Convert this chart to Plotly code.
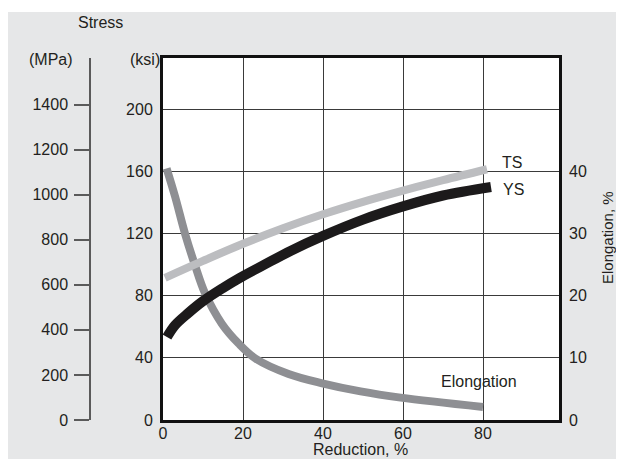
import plotly.graph_objects as go

# ---- data ----
ts_x = [0.5, 10, 20, 30, 40, 50, 60, 70, 81]
ts_ksi = [91.5, 102.4, 113.4, 123.4, 132.4, 140.4, 147.6, 154.4, 161.4]

ys_x = [1, 3, 6.3, 10, 15, 19, 25, 32, 40, 50, 60, 70, 82]
ys_ksi = [53.4, 61, 68.8, 76.5, 85, 91.2, 99.5, 109, 118.5, 129, 137.5, 144.5, 150]

el_x = [0.9, 3.0, 5.5, 8.0, 10.5, 14.7, 18.9, 23.1, 31.4, 39.8, 49.4, 59.4, 80]
el_pct = [40.5, 36.0, 30.0, 24.9, 20.4, 15.5, 12.3, 9.9, 7.4, 5.9, 4.6, 3.6, 2.1]

x_ticks = [0, 20, 40, 60, 80]
ksi_ticks = [0, 40, 80, 120, 160, 200]
mpa_ticks = [0, 200, 400, 600, 800, 1000, 1200, 1400]
el_ticks = [0, 10, 20, 30, 40]

KSI_MAX = 233
MPA_PER_KSI = 6.895
EL_MAX = KSI_MAX / 4

W, H = 624, 459
OFF = 8  # page body margin
FONT = "Liberation Sans, Arial, Helvetica, sans-serif"
TXT = "#231f20"
BG = "#e6e7e8"


def px(x):
    return (x - OFF) / W


def py(y):
    return 1 - (y - OFF) / H


xdom = [px(163), px(559)]
ydom = [py(420), py(58)]

fig = go.Figure()
fig.add_trace(go.Scatter(x=el_x, y=el_pct, mode="lines",
                         line=dict(color="#8e8f93", width=8, shape="spline", smoothing=1.0),
                         yaxis="y", showlegend=False, hoverinfo="skip"))
fig.add_trace(go.Scatter(x=ts_x, y=ts_ksi, mode="lines",
                         line=dict(color="#bcbdc0", width=8, shape="spline", smoothing=1.0),
                         yaxis="y2", showlegend=False, hoverinfo="skip"))
fig.add_trace(go.Scatter(x=ys_x, y=ys_ksi, mode="lines",
                         line=dict(color="#1c1a1b", width=10, shape="spline", smoothing=1.0),
                         yaxis="y2", showlegend=False, hoverinfo="skip"))
# MPa axis carrier (no visible marks)
fig.add_trace(go.Scatter(x=[None], y=[None], mode="lines", yaxis="y3", showlegend=False, hoverinfo="skip"))

tickfont = dict(family=FONT, size=16, color=TXT)
labfont = dict(family=FONT, size=15, color=TXT)

fig.update_layout(
    width=W, height=H,
    margin=dict(l=0, r=0, t=0, b=0, autoexpand=False),
    paper_bgcolor=BG, plot_bgcolor="white",
    font=dict(family=FONT, size=15, color=TXT),
    xaxis=dict(domain=xdom, range=[0, 99], tickvals=x_ticks, showgrid=True, gridcolor="#3a3a3a", gridwidth=1.2,
               zeroline=False, showline=True, mirror=True, linecolor="#111", linewidth=3,
               ticks="", tickfont=tickfont, anchor="y", ticklabelstandoff=-3),
    yaxis=dict(domain=ydom, range=[0, EL_MAX], tickvals=el_ticks, side="right", anchor="x",
               showgrid=False, zeroline=False, showline=False, ticks="", ticklabelstandoff=9,
               tickfont=tickfont),
    yaxis2=dict(domain=ydom, range=[0, KSI_MAX], tickvals=ksi_ticks, overlaying="y", side="left", anchor="x",
                showgrid=True, gridcolor="#3a3a3a", gridwidth=1.2,
                zeroline=False, showline=True, mirror=True, linecolor="#111", linewidth=3,
                ticks="", ticklabelstandoff=4, tickfont=tickfont),
    yaxis3=dict(domain=ydom, range=[0, KSI_MAX * MPA_PER_KSI], tickvals=mpa_ticks, overlaying="y", side="left",
                anchor="free", position=px(90), showgrid=False, zeroline=False, showline=True,
                linecolor="#5a5a5a", linewidth=1.5, ticks="outside", ticklen=15, tickwidth=1.5,
                tickcolor="#5a5a5a", tickfont=tickfont, ticklabelstandoff=3),
    shapes=[
        dict(type="rect", xref="paper", yref="paper", x0=-0.05, x1=1.05, y0=py(12), y1=1.05,
             fillcolor="white", line=dict(width=0), layer="below"),
    ],
)

ann = [
    ("Stress", 100, 23, 0, tickfont),
    ("(MPa)", 51, 60, 0, tickfont),
    ("(ksi)", 145, 60, 0, tickfont),
    ("Reduction, %", 360, 449, 0, tickfont),
    ("TS", 512, 162, 0, tickfont),
    ("YS", 513, 189, 0, tickfont),
    ("Elongation", 479, 381, 0, tickfont),
    ("Elongation, %", 608, 238, -90, labfont),
]
for text, x, y, ang, f in ann:
    fig.add_annotation(text=text, x=px(x), y=py(y), xref="paper", yref="paper", showarrow=False,
                       xanchor="center", yanchor="middle", textangle=ang, font=f)

fig.write_html("out.html")
